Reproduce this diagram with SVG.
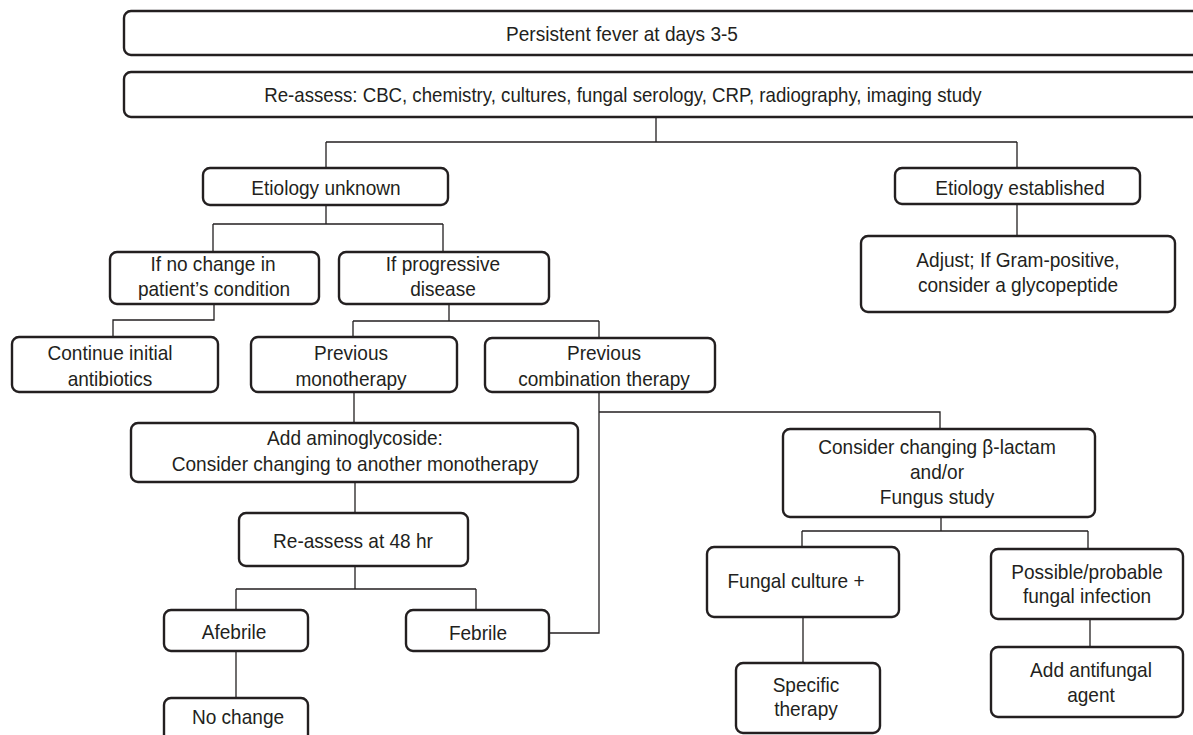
<svg xmlns="http://www.w3.org/2000/svg" width="1193" height="735" viewBox="0 0 1193 735">
<style>
.b{fill:#fff;stroke:#231f20;stroke-width:2.4}
.t{font-family:"Liberation Sans",Arial,sans-serif;font-size:20.5px;fill:#231f20;text-anchor:middle}
.c{fill:none;stroke:#231f20;stroke-width:1.3}
</style>
<rect width="1193" height="735" fill="#fff"/>
<g id="connectors">
<path class="c" d="M656 117V142M326 142H1017M326 142V168M1017 142V168"/>
<path class="c" d="M1017 205V236"/>
<path class="c" d="M326 205V224M213 224H443M213 224V252M443 224V252"/>
<path class="c" d="M214 304V320H113V337"/>
<path class="c" d="M449 304V321M353 321H599M353 321V338M599 321V338"/>
<path class="c" d="M354 392V423"/>
<path class="c" d="M355 482V513"/>
<path class="c" d="M355 566V589M236 589H476M236 589V610M476 589V610"/>
<path class="c" d="M549 633H599V392"/>
<path class="c" d="M599 412H940V429"/>
<path class="c" d="M236 651V698"/>
<path class="c" d="M941 517V531M802 531H1088M802 531V547M1088 531V549"/>
<path class="c" d="M803 617V663"/>
<path class="c" d="M1090 619V647"/>
</g>
<g id="n1"><rect class="b" x="124" y="11" width="1080" height="44" rx="7"/><text class="t" transform="translate(622 40.5) scale(.93 1)">Persistent fever at days 3-5</text></g>
<g id="n2"><rect class="b" x="124" y="72" width="1080" height="45" rx="7"/><text class="t" transform="translate(623 102) scale(.91 1)">Re-assess: CBC, chemistry, cultures, fungal serology, CRP, radiography, imaging study</text></g>
<g id="n3"><rect class="b" x="203" y="168" width="245" height="37" rx="7"/><text class="t" transform="translate(326 194.5) scale(.93 1)">Etiology unknown</text></g>
<g id="n4"><rect class="b" x="895" y="168" width="245" height="36" rx="7"/><text class="t" transform="translate(1020 194.5) scale(.93 1)">Etiology established</text></g>
<g id="n5"><rect class="b" x="861" y="236" width="314" height="76" rx="7"/><text class="t" transform="translate(1018 267) scale(.93 1)">Adjust; If Gram-positive,</text><text class="t" transform="translate(1018 292) scale(.93 1)">consider a glycopeptide</text></g>
<g id="n6"><rect class="b" x="110" y="252" width="209" height="52" rx="7"/><text class="t" transform="translate(213 271) scale(.93 1)">If no change in</text><text class="t" transform="translate(214 296) scale(.93 1)">patient’s condition</text></g>
<g id="n7"><rect class="b" x="339" y="252" width="210" height="52" rx="7"/><text class="t" transform="translate(443 271) scale(.93 1)">If progressive</text><text class="t" transform="translate(443 296) scale(.93 1)">disease</text></g>
<g id="n8"><rect class="b" x="12" y="337" width="206" height="55" rx="7"/><text class="t" transform="translate(110 360) scale(.93 1)">Continue initial</text><text class="t" transform="translate(110 386) scale(.93 1)">antibiotics</text></g>
<g id="n9"><rect class="b" x="251" y="337" width="206" height="55" rx="7"/><text class="t" transform="translate(351 360) scale(.93 1)">Previous</text><text class="t" transform="translate(351 386) scale(.93 1)">monotherapy</text></g>
<g id="n10"><rect class="b" x="485" y="338" width="230" height="54" rx="7"/><text class="t" transform="translate(604 360) scale(.93 1)">Previous</text><text class="t" transform="translate(604 386) scale(.93 1)">combination therapy</text></g>
<g id="n11"><rect class="b" x="131" y="423" width="447" height="59" rx="7"/><text class="t" transform="translate(355 445) scale(.93 1)">Add aminoglycoside:</text><text class="t" transform="translate(355 471) scale(.93 1)">Consider changing to another monotherapy</text></g>
<g id="n12"><rect class="b" x="239" y="513" width="229" height="53" rx="7"/><text class="t" transform="translate(353 548) scale(.93 1)">Re-assess at 48 hr</text></g>
<g id="n13"><rect class="b" x="164" y="610" width="144" height="41" rx="7"/><text class="t" transform="translate(234 639) scale(.93 1)">Afebrile</text></g>
<g id="n14"><rect class="b" x="406" y="610" width="143" height="41" rx="7"/><text class="t" transform="translate(478 640) scale(.93 1)">Febrile</text></g>
<g id="n15"><rect class="b" x="164" y="698" width="144" height="50" rx="7"/><text class="t" transform="translate(238 724) scale(.93 1)">No change</text></g>
<g id="n16"><rect class="b" x="783" y="429" width="312" height="88" rx="7"/><text class="t" transform="translate(937 454) scale(.93 1)">Consider changing β-lactam</text><text class="t" transform="translate(937 479) scale(.93 1)">and/or</text><text class="t" transform="translate(937 504) scale(.93 1)">Fungus study</text></g>
<g id="n17"><rect class="b" x="707" y="547" width="192" height="70" rx="7"/><text class="t" transform="translate(796 588) scale(.93 1)">Fungal culture +</text></g>
<g id="n18"><rect class="b" x="991" y="549" width="192" height="70" rx="7"/><text class="t" transform="translate(1087 579) scale(.93 1)">Possible/probable</text><text class="t" transform="translate(1087 603) scale(.93 1)">fungal infection</text></g>
<g id="n19"><rect class="b" x="736" y="663" width="144" height="70" rx="7"/><text class="t" transform="translate(806 692) scale(.93 1)">Specific</text><text class="t" transform="translate(806 716) scale(.93 1)">therapy</text></g>
<g id="n20"><rect class="b" x="991" y="647" width="192" height="70" rx="7"/><text class="t" transform="translate(1091 677) scale(.93 1)">Add antifungal</text><text class="t" transform="translate(1091 702) scale(.93 1)">agent</text></g>
</svg>
